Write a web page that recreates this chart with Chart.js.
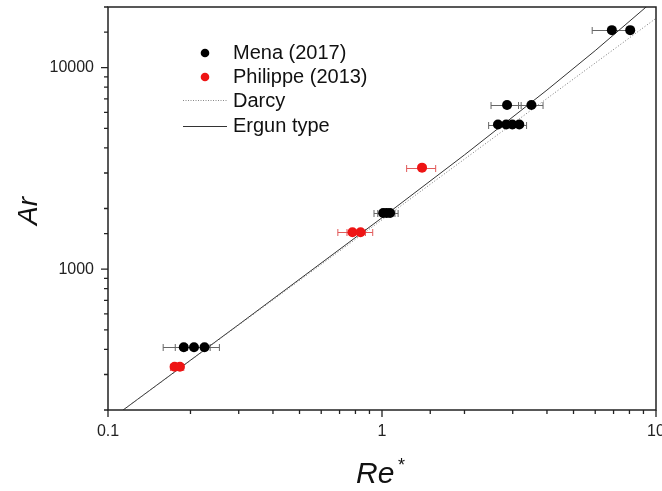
<!DOCTYPE html>
<html>
<head>
<meta charset="utf-8">
<script src="https://cdn.jsdelivr.net/npm/chart.js@4/dist/chart.umd.min.js"></script>
<style>
  html, body { margin: 0; padding: 0; background: #fff; }
  #wrap { width: 662px; height: 491px; }
</style>
</head>
<body>
<div id="wrap"><canvas id="arChart" width="662" height="491"></canvas></div>
<script>
// Mena (2017) measurements
const menaRe  = [6.9, 8.05, 2.86, 3.51, 2.65, 2.84, 2.99, 3.17, 1.01, 1.04, 1.07, 0.189, 0.206, 0.225];
const menaAr  = [15350, 15350, 6530, 6530, 5220, 5220, 5220, 5220, 1900, 1900, 1900, 410, 410, 410];
const menaErr = [1.05, 0.1, 0.36, 0.36, 0.2, 0.2, 0.2, 0.2, 0.075, 0.075, 0.075, 0.03, 0.03, 0.03];

// Philippe (2013) measurements
const philRe  = [1.40, 0.78, 0.835, 0.175, 0.183];
const philAr  = [3190, 1525, 1525, 328, 328];
const philErr = [0.17, 0.09, 0.09, 0.006, 0.006];

// model curves
const darcyRe = [0.1, 10];
const darcyAr = [176, 17570];
const ergunRe = [0.1, 0.3, 1, 2, 4, 6, 10];
const ergunAr = [176, 531, 1800, 3690, 7740, 12150, 22030];

// axes
const xMin = 0.1, xMax = 10;
const yMin = 200, yMax = 20000;

const FONT = 'Arial, "Liberation Sans", sans-serif';
const RED = 'rgb(238,20,20)';

function toXY(xs, ys) {
  return xs.map((x, i) => ({ x: x, y: ys[i] }));
}

function isDecade(v) {
  const l = Math.log10(v);
  return Math.abs(l - Math.round(l)) < 1e-6;
}

// horizontal error bars, drawn under the points
const errorBars = {
  id: 'errorBars',
  beforeDatasetsDraw(chart) {
    const ctx = chart.ctx;
    const xs = chart.scales.x, ys = chart.scales.y;
    const sets = [
      { re: menaRe, ar: menaAr, err: menaErr, color: '#666' },
      { re: philRe, ar: philAr, err: philErr, color: 'rgb(225,90,90)' }
    ];
    ctx.save();
    ctx.lineWidth = 1;
    sets.forEach(s => {
      ctx.strokeStyle = s.color;
      s.re.forEach((re, i) => {
        const y = Math.round(ys.getPixelForValue(s.ar[i])) + 0.5;
        const x0 = xs.getPixelForValue(re - s.err[i]);
        const x1 = xs.getPixelForValue(re + s.err[i]);
        ctx.beginPath();
        ctx.moveTo(x0, y); ctx.lineTo(x1, y);
        ctx.moveTo(x0, y - 3.5); ctx.lineTo(x0, y + 3.5);
        ctx.moveTo(x1, y - 3.5); ctx.lineTo(x1, y + 3.5);
        ctx.stroke();
      });
    });
    ctx.restore();
  }
};

// frame, outward ticks, legend and axis titles
const frame = {
  id: 'frame',
  afterDraw(chart) {
    const ctx = chart.ctx;
    const a = chart.chartArea;
    const xs = chart.scales.x, ys = chart.scales.y;
    ctx.save();
    ctx.strokeStyle = '#222';
    ctx.lineWidth = 1.5;
    ctx.strokeRect(a.left, a.top, a.right - a.left, a.bottom - a.top);

    ctx.lineWidth = 1.3;
    ctx.beginPath();
    xs.ticks.forEach(t => {
      const px = xs.getPixelForValue(t.value);
      const len = isDecade(t.value) ? 7 : 4;
      ctx.moveTo(px, a.bottom); ctx.lineTo(px, a.bottom + len);
    });
    ys.ticks.forEach(t => {
      const py = ys.getPixelForValue(t.value);
      const len = isDecade(t.value) ? 7 : 4;
      ctx.moveTo(a.left, py); ctx.lineTo(a.left - len, py);
    });
    ctx.stroke();

    // legend
    const lx = 205, tx = 233;
    ctx.font = '20px ' + FONT;
    ctx.textBaseline = 'middle';
    ctx.textAlign = 'left';
    ctx.fillStyle = '#000';
    ctx.beginPath(); ctx.arc(lx, 53, 4.3, 0, Math.PI * 2); ctx.fill();
    ctx.fillStyle = RED;
    ctx.beginPath(); ctx.arc(lx, 77, 4.3, 0, Math.PI * 2); ctx.fill();

    ctx.lineWidth = 1;
    ctx.strokeStyle = '#888';
    ctx.setLineDash([1, 1.5]);
    ctx.beginPath(); ctx.moveTo(183, 100.5); ctx.lineTo(227, 100.5); ctx.stroke();
    ctx.setLineDash([]);
    ctx.strokeStyle = '#333';
    ctx.beginPath(); ctx.moveTo(183, 126.5); ctx.lineTo(227, 126.5); ctx.stroke();

    ctx.fillStyle = '#111';
    ctx.fillText('Mena (2017)', tx, 53);
    ctx.fillText('Philippe (2013)', tx, 77);
    ctx.fillText('Darcy', tx, 101);
    ctx.fillText('Ergun type', tx, 126);

    // axis titles
    ctx.textBaseline = 'alphabetic';
    ctx.font = 'italic 28px ' + FONT;
    ctx.save();
    ctx.translate(37, 211);
    ctx.rotate(-Math.PI / 2);
    ctx.textAlign = 'center';
    ctx.fillText('Ar', 0, 0);
    ctx.restore();

    ctx.font = 'italic 30px ' + FONT;
    ctx.textAlign = 'left';
    ctx.fillText('Re', 356, 483);
    ctx.font = '18px ' + FONT;
    ctx.fillText('*', 398, 471);
    ctx.restore();
  }
};

new Chart(document.getElementById('arChart'), {
  type: 'scatter',
  data: {
    datasets: [
      {
        label: 'Mena (2017)',
        data: toXY(menaRe, menaAr),
        backgroundColor: '#000',
        borderColor: '#000',
        pointRadius: 5,
        pointBorderWidth: 0
      },
      {
        label: 'Philippe (2013)',
        data: toXY(philRe, philAr),
        backgroundColor: RED,
        borderColor: RED,
        pointRadius: 5,
        pointBorderWidth: 0
      },
      {
        label: 'Darcy',
        data: toXY(darcyRe, darcyAr),
        showLine: true,
        borderColor: '#777',
        borderWidth: 1,
        borderDash: [1, 2],
        pointRadius: 0
      },
      {
        label: 'Ergun type',
        data: toXY(ergunRe, ergunAr),
        showLine: true,
        borderColor: '#333',
        borderWidth: 1,
        pointRadius: 0,
        tension: 0
      }
    ]
  },
  options: {
    responsive: false,
    animation: false,
    layout: { padding: { top: 7, right: 6, left: 0, bottom: 0 } },
    plugins: {
      legend: { display: false },
      tooltip: { enabled: false }
    },
    scales: {
      x: {
        type: 'logarithmic',
        min: xMin,
        max: xMax,
        grid: { display: false, drawTicks: false },
        border: { display: false },
        ticks: {
          autoSkip: false,
          maxRotation: 0,
          padding: 12,
          color: '#222',
          font: { family: FONT, size: 16 },
          callback: v => isDecade(v) ? String(v) : ''
        },
        afterFit: s => { s.height = 81; s.paddingLeft = 0; s.paddingRight = 0; }
      },
      y: {
        type: 'logarithmic',
        min: yMin,
        max: yMax,
        grid: { display: false, drawTicks: false },
        border: { display: false },
        ticks: {
          autoSkip: false,
          padding: 14,
          color: '#222',
          font: { family: FONT, size: 16 },
          callback: v => isDecade(v) ? String(v) : ''
        },
        afterFit: s => { s.width = 108; s.paddingTop = 0; s.paddingBottom = 0; }
      }
    }
  },
  plugins: [errorBars, frame]
});
</script>
</body>
</html>
